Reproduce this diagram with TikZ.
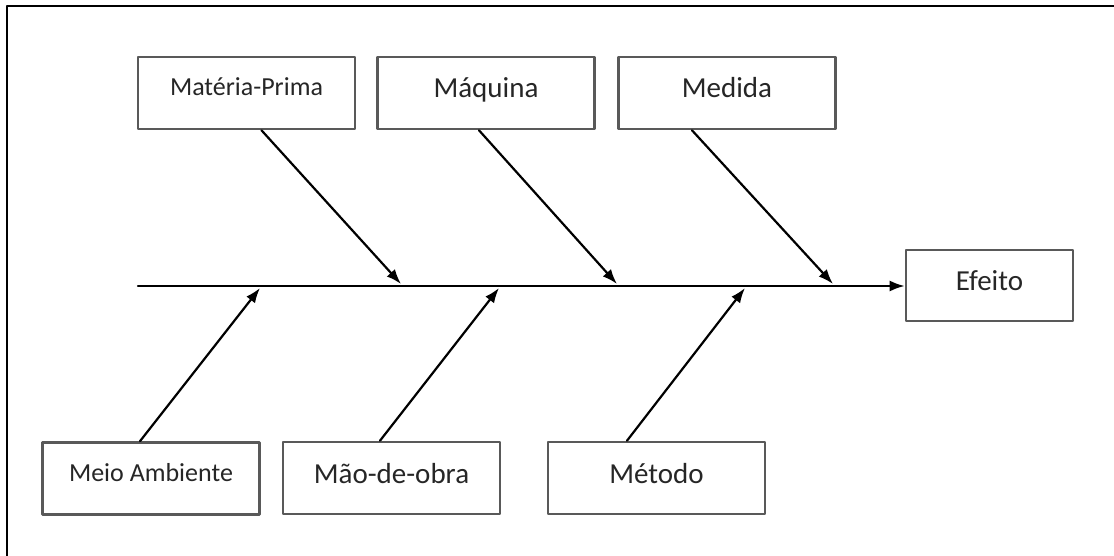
\documentclass[tikz,border=0pt]{standalone}
\usepackage{fontspec}
\setmainfont{Carlito}
\usetikzlibrary{arrows.meta}

\begin{document}
\begin{tikzpicture}[x=1pt, y=-1pt, line cap = round, line join = round, >={Latex[length=15pt,width=11pt]},
	cause/.style={draw=black!65, line width=2.6pt, minimum width=217pt, minimum height=72pt, inner sep=0pt, text=black!85, text height=20pt, text depth=10pt, font=\fontsize{29}{34}\selectfont},
	smalltext/.style={font=\fontsize{26}{31}\selectfont, text height=18pt, text depth=13pt},
	bone/.style={->, line width=2.2pt}]
		\useasboundingbox (0,0) rectangle (1114,556);
		% frame (cut at right and bottom)
		\draw [line width=2.4pt] (7,556) -- (7,6) -- (1114,6);

		% causes above the spine
		\node [cause, smalltext] (mp) at (246.5,93) {Matéria-Prima};
		\node [cause] (maq) at (486,93) {Máquina};
		\node [cause] (med) at (727,93) {Medida};
		% causes below the spine
		\node [cause, smalltext] (ma) at (151,478.5) {Meio Ambiente};
		\node [cause] (mo) at (391.5,478) {Mão-de-obra};
		\node [cause] (met) at (656.5,478) {Método};
		% effect
		\node [cause, minimum width=167pt, minimum height=71pt] (ef) at (989.5,285.5) {Efeito};

		% spine
		\coordinate (tail) at (138,286);
		\draw [bone] (tail) -- (tail -| ef.west);

		% points where the bones meet the spine
		\coordinate (mp end) at (401,284);
		\coordinate (maq end) at (617,284);
		\coordinate (med end) at (833,284);
		\coordinate (ma end) at (260,288);
		\coordinate (mo end) at (499,288);
		\coordinate (met end) at (745,288);

		% bones
		\draw [bone] ([xshift=15pt]mp.south) -- (mp end);
		\draw [bone] ([xshift=-7pt]maq.south) -- (maq end);
		\draw [bone] ([xshift=-35pt]med.south) -- (med end);
		\draw [bone] ([xshift=-11pt]ma.north) -- (ma end);
		\draw [bone] ([xshift=-11.5pt]mo.north) -- (mo end);
		\draw [bone] ([xshift=-29.5pt]met.north) -- (met end);
	\end{tikzpicture}
\end{document}
